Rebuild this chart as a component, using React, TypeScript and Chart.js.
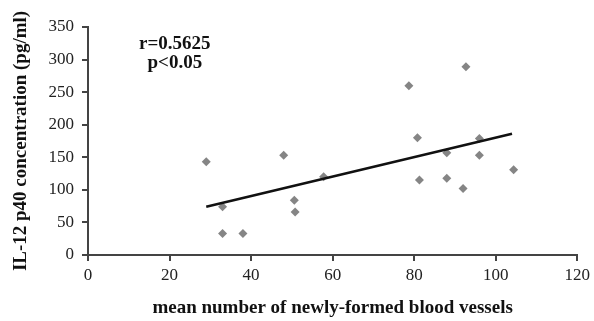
import React, { useEffect, useRef } from "react";
import { Chart, registerables } from "chart.js";

Chart.register(...registerables);

// Data
const vessels = [29, 33, 33, 38, 48, 50.6, 50.8, 57.8, 78.7, 80.8, 81.3, 88, 88, 92, 92.7, 96, 96, 104.4];
const il12 = [143, 74, 33, 33, 153, 84, 66, 120, 260, 180, 115, 118, 157, 102, 289, 179, 153, 131];
const trendX = [29, 104];
const trendY = [74, 186];
const xRange = [0, 120];
const xStep = 20;
const yRange = [0, 350];
const yStep = 50;
const annotationLines = ["r=0.5625", "p<0.05"];
const annotationX = 21.3;
const annotationY = [324, 295];
const xTitle = "mean number of newly-formed blood vessels";
const yTitle = "IL-12 p40 concentration (pg/ml)";

const serif = '"Liberation Serif", "Times New Roman", Times, serif';

const annotationPlugin = {
  id: "annot",
  afterDatasetsDraw(chart: any) {
    const { ctx, scales } = chart;
    ctx.save();
    ctx.font = `bold 19px ${serif}`;
    ctx.fillStyle = "#111";
    ctx.textAlign = "center";
    ctx.textBaseline = "middle";
    annotationLines.forEach((t, i) => {
      ctx.fillText(t, scales.x.getPixelForValue(annotationX), scales.y.getPixelForValue(annotationY[i]));
    });
    ctx.restore();
  },
};

export default function App() {
  const ref = useRef<HTMLCanvasElement>(null);
  useEffect(() => {
    document.body.style.margin = "0";
    const scatter = vessels.map((x, i) => ({ x, y: il12[i] }));
    const trend = trendX.map((x, i) => ({ x, y: trendY[i] }));
    const chart = new Chart(ref.current!, {
      type: "scatter",
      data: {
        datasets: [
          {
            data: trend,
            showLine: true,
            borderColor: "#111",
            borderWidth: 2.5,
            pointRadius: 0,
            fill: false,
          } as any,
          {
            data: scatter,
            pointStyle: "rectRot",
            pointRadius: 4.5,
            backgroundColor: "#858585",
            borderColor: "#858585",
            borderWidth: 0,
          },
        ],
      },
      options: {
        animation: false,
        responsive: false,
        devicePixelRatio: 1,
        layout: { padding: { top: 27, right: 16, bottom: 0, left: 0 } },
        plugins: { legend: { display: false }, tooltip: { enabled: false } },
        scales: {
          x: {
            type: "linear",
            min: xRange[0],
            max: xRange[1],
            afterFit: (s: any) => { s.height = 66; },
            ticks: { stepSize: xStep, color: "#222", font: { family: serif, size: 17 }, padding: 4 },
            grid: { display: true, drawOnChartArea: false, drawTicks: true, tickLength: 6, color: "#444", lineWidth: 2 },
            border: { display: true, color: "#444", width: 2 },
            title: { display: true, text: xTitle, color: "#111", font: { family: serif, size: 19, weight: "bold" }, padding: { top: 4, bottom: 2 } },
          },
          y: {
            type: "linear",
            min: yRange[0],
            max: yRange[1],
            afterFit: (s: any) => { s.width = 88; },
            ticks: { stepSize: yStep, color: "#222", font: { family: serif, size: 17 }, padding: 8 },
            grid: { display: true, drawOnChartArea: false, drawTicks: true, tickLength: 6, color: "#444", lineWidth: 2 },
            border: { display: true, color: "#444", width: 2 },
            title: { display: true, text: yTitle, color: "#111", font: { family: serif, size: 19, weight: "bold" }, padding: { top: 10, bottom: 0 } },
          },
        },
      },
      plugins: [annotationPlugin],
    });
    return () => chart.destroy();
  }, []);
  return (
    <div style={{ width: 594, height: 321 }}>
      <canvas ref={ref} width={594} height={321} style={{ display: "block" }} />
    </div>
  );
}
